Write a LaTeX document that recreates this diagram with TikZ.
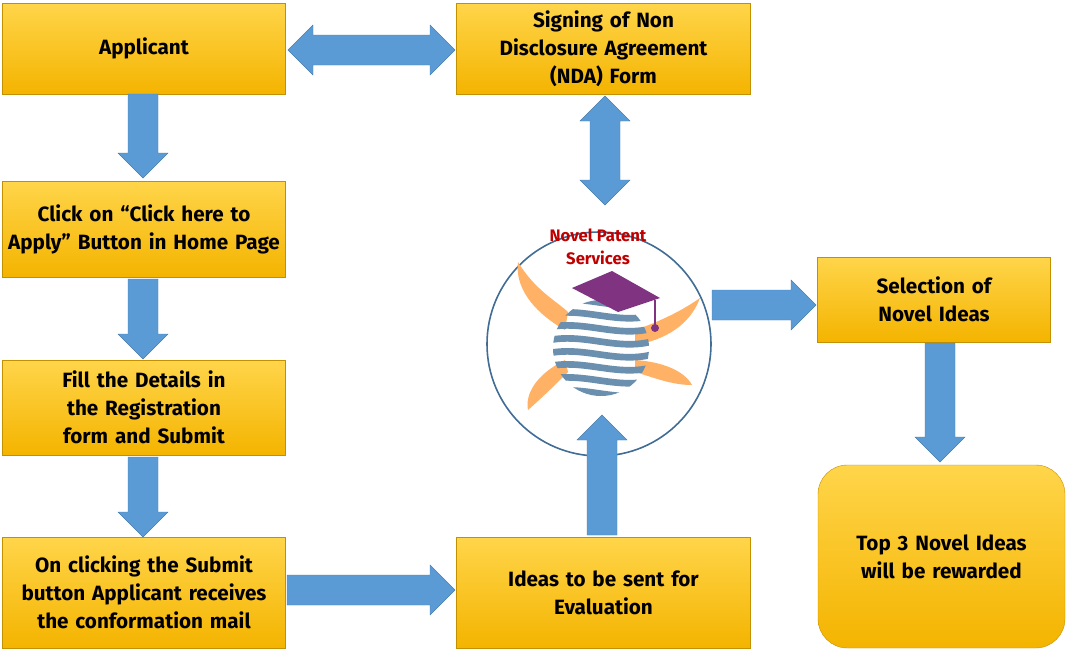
\documentclass[tikz,border=0pt]{standalone}
\usepackage{fontspec}
\setmainfont{Fira Sans}
\definecolor{arr}{HTML}{5B9BD5}
\definecolor{gold1}{HTML}{F4B400}
\definecolor{gold2}{HTML}{FFD54A}
\begin{document}
\begin{tikzpicture}[x=0.75pt,y=-0.75pt,
 box/.style={draw=gold1!80!black,line width=0.3pt,top color=gold2,bottom color=gold1,inner sep=1pt,align=center,font=\fontsize{15.5}{21}\selectfont\bfseries},
 fat/.style={fill=arr,draw=arr!80!black,line width=0.3pt}]
\useasboundingbox (0,0) rectangle (1068,651);
\hyphenpenalty=10000
\newcommand\bx[6]{\node[box,minimum width=(#4-#2)*0.75pt,minimum height=(#5-#3)*0.75pt,text width=(#4-#2-2)*0.75pt] (#1) at ({(#2+#4)/2},{(#3+#5)/2}) {#6};}
% single fat arrow: start point, angle, length
\newcommand\sarrow[4]{\coordinate (#1) at (#2); \fill[fat,shift={(#2)},rotate=#3] (0,-15) -- (#4-25,-15) -- (#4-25,-25) -- (#4,0) -- (#4-25,25) -- (#4-25,15) -- (0,15) -- cycle;}
\newcommand\darrow[4]{\coordinate (#1) at (#2); \fill[fat,shift={(#2)},rotate=#3] (0,0) -- (25,-25) -- (25,-15) -- (#4-25,-15) -- (#4-25,-25) -- (#4,0) -- (#4-25,25) -- (#4-25,15) -- (25,15) -- (25,25) -- cycle;}
\bx{app}{3}{3}{285}{94}{Applicant}
\bx{click}{3}{181}{285}{277}{Click on “Click here to Apply” Button in Home Page}
\bx{fill}{3}{360}{285}{455}{Fill the Details in the Registration form and Submit}
\bx{onc}{3}{537}{285}{648}{On clicking the Submit button Applicant receives the conformation mail}
\bx{nda}{457}{3}{750}{94}{Signing of Non\\Disclosure Agreement (NDA) Form}
\bx{ideas}{457}{537}{750}{648}{Ideas to be sent for\\Evaluation}
\bx{sel}{818}{257}{1050}{342}{Selection of Novel Ideas}
\node[box,rounded corners=22pt,minimum width=247*0.75pt,minimum height=183*0.75pt,text width=175*0.75pt] (top) at (941.5,556.5) {Top 3 Novel Ideas will be rewarded};
% logo
\coordinate (nps) at (599,344);
\fill[white] (nps) circle[radius=112];
\draw[arr!70!black,line width=1.2pt] (nps) circle[radius=112];
\node[font=\fontsize{12.5}{17}\selectfont\bfseries,text=red!75!black,align=center] (npst) at (598,247) {Novel Patent\\Services};
\fill[orange!60] (565,330) .. controls (530,310) and (515,285) .. (518,262) .. controls (535,290) and (555,300) .. (568,312) -- cycle;
\fill[orange!60] (565,360) .. controls (535,375) and (525,395) .. (528,410) .. controls (545,395) and (558,382) .. (568,372) -- cycle;
\fill[orange!60] (635,330) .. controls (670,318) and (690,305) .. (700,298) .. controls (690,325) and (665,340) .. (635,345) -- cycle;
\fill[orange!60] (635,360) .. controls (665,362) and (685,372) .. (692,385) .. controls (672,385) and (655,378) .. (635,372) -- cycle;
\begin{scope}
\clip (601,348) circle[radius=48];
\foreach \i in {0,...,7}{\draw[arr!55!gray,line width=5pt] (545,{302+\i*13}) .. controls (585,{292+\i*13}) and (620,{315+\i*13}) .. (660,{300+\i*13});}
\end{scope}
\fill[violet!60!gray] (572,288) -- (612,271) -- (660,298) -- (618,312) -- cycle;
\draw[violet!60!gray,line width=1pt] (655,300) -- (655,325);
\fill[violet!60!gray] (655,328) circle[radius=4];
% arrows
\sarrow{a1}{143,94}{-90}{84}
\sarrow{a2}{143,279}{-90}{80}
\sarrow{a3}{143,457}{-90}{80}
\sarrow{a4}{287,590}{0}{168}
\sarrow{a5}{602,535}{90}{120}
\darrow{a6}{605,96}{-90}{109}
\darrow{a7}{288,50}{0}{167}
\sarrow{a8}{712,305}{0}{104}
\sarrow{a9}{940,343}{-90}{119}
\end{tikzpicture}
\end{document}
